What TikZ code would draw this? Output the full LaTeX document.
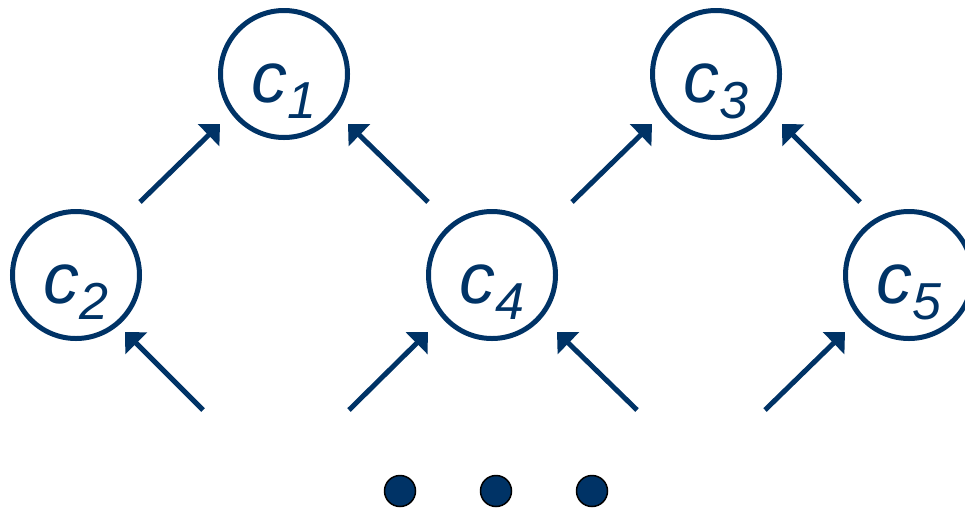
\documentclass[tikz,border=0pt]{standalone}
\usepackage{fontspec}
\setmainfont{Liberation Sans}
\usetikzlibrary{arrows.meta}
\definecolor{navy}{RGB}{0,51,102}
\newcommand{\cname}[1]{{\fontsize{72}{72}\selectfont\itshape c}\raisebox{-16pt}{\fontsize{52}{52}\selectfont\itshape #1}}
\begin{document}
\begin{tikzpicture}[x=1pt,y=-1pt,
  cnode/.style={circle,draw=navy,line width=5pt,minimum size=127pt,inner sep=0pt},
  lbl/.style={anchor=base,inner sep=0pt,text=navy},
  arr/.style={draw=navy,line width=5pt,-{Triangle[length=16pt,width=30pt]}},
  dotnode/.style={circle,fill=navy,draw=black,line width=1.5pt,minimum size=31pt,inner sep=0pt}]
\useasboundingbox (0,0) rectangle (965,507);

% circles
\node[cnode] (c1) at (284,74) {};
\node[cnode] (c3) at (716,74) {};
\node[cnode] (c2) at (76,275) {};
\node[cnode] (c4) at (492,275) {};
\node[cnode] (c5) at (909,275) {};

% labels, baseline below the circle centre
\node[lbl] (l1) at ([yshift=-28pt]c1.center) {\cname{1}};
\node[lbl] (l3) at ([yshift=-28pt]c3.center) {\cname{3}};
\node[lbl] (l2) at ([yshift=-28pt]c2.center) {\cname{2}};
\node[lbl] (l4) at ([yshift=-28pt]c4.center) {\cname{4}};
\node[lbl] (l5) at ([yshift=-28pt]c5.center) {\cname{5}};

% arrow end points
\coordinate (a1s) at (140,202); \coordinate (a1e) at (220,124);
\coordinate (a2s) at (428,202); \coordinate (a2e) at (348,124);
\coordinate (a3s) at (572,202); \coordinate (a3e) at (652,124);
\coordinate (a4s) at (860,202); \coordinate (a4e) at (782,124);
\coordinate (b1s) at (203,410); \coordinate (b1e) at (125,332);
\coordinate (b2s) at (349,410); \coordinate (b2e) at (428,332);
\coordinate (b3s) at (637,410); \coordinate (b3e) at (557,332);
\coordinate (b4s) at (765,410); \coordinate (b4e) at (845,332);

\draw[arr] (a1s) -- (a1e);
\draw[arr] (a2s) -- (a2e);
\draw[arr] (a3s) -- (a3e);
\draw[arr] (a4s) -- (a4e);
\draw[arr] (b1s) -- (b1e);
\draw[arr] (b2s) -- (b2e);
\draw[arr] (b3s) -- (b3e);
\draw[arr] (b4s) -- (b4e);

% ellipsis dots
\node[dotnode] (d1) at (400,491) {};
\node[dotnode] (d2) at (496,491) {};
\node[dotnode] (d3) at (592,491) {};
\end{tikzpicture}
\end{document}
